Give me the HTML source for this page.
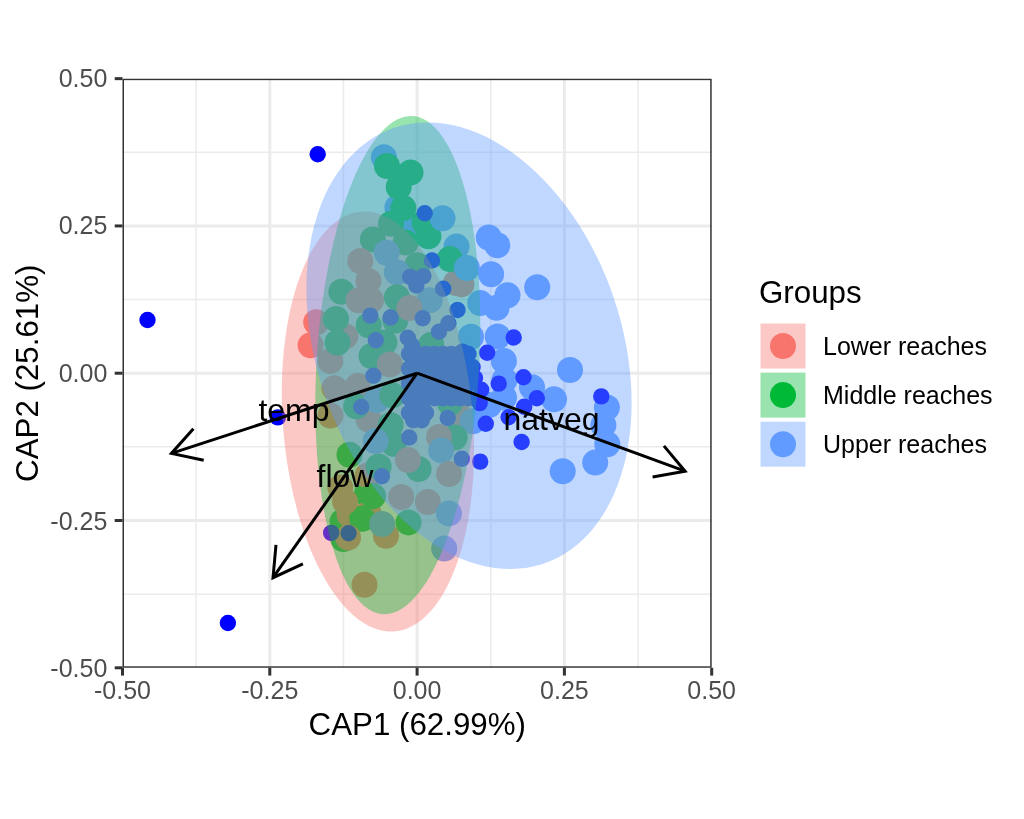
<!DOCTYPE html>
<html lang="en"><head><meta charset="utf-8"><title>CAP ordination</title>
<style>
html,body{margin:0;padding:0;background:#fff;}
body{width:1024px;height:819px;overflow:hidden;}
svg{display:block;}
text{font-family:"Liberation Sans",sans-serif;}
.tick{font-size:25px;fill:#4d4d4d;}
.axt{font-size:31.3px;fill:#000;}
.lab{font-size:32px;fill:#000;}
.lt{font-size:31.3px;fill:#000;}
.ll{font-size:25px;fill:#000;}
</style></head><body>
<svg width="1024" height="819" viewBox="0 0 1024 819">
<rect x="0" y="0" width="1024" height="819" fill="#ffffff"/>
<g stroke="#ebebeb" fill="none">
<line x1="196.15" y1="78.65" x2="196.15" y2="667.8" stroke-width="1.5"/>
<line x1="122.5" y1="594.16" x2="711.7" y2="594.16" stroke-width="1.5"/>
<line x1="343.45" y1="78.65" x2="343.45" y2="667.8" stroke-width="1.5"/>
<line x1="122.5" y1="446.87" x2="711.7" y2="446.87" stroke-width="1.5"/>
<line x1="490.75" y1="78.65" x2="490.75" y2="667.8" stroke-width="1.5"/>
<line x1="122.5" y1="299.58" x2="711.7" y2="299.58" stroke-width="1.5"/>
<line x1="638.05" y1="78.65" x2="638.05" y2="667.8" stroke-width="1.5"/>
<line x1="122.5" y1="152.29" x2="711.7" y2="152.29" stroke-width="1.5"/>
<line x1="269.80" y1="78.65" x2="269.80" y2="667.8" stroke-width="3"/>
<line x1="122.5" y1="520.51" x2="711.7" y2="520.51" stroke-width="3"/>
<line x1="417.10" y1="78.65" x2="417.10" y2="667.8" stroke-width="3"/>
<line x1="122.5" y1="373.22" x2="711.7" y2="373.22" stroke-width="3"/>
<line x1="564.40" y1="78.65" x2="564.40" y2="667.8" stroke-width="3"/>
<line x1="122.5" y1="225.94" x2="711.7" y2="225.94" stroke-width="3"/>
</g>
<defs><clipPath id="pc"><rect x="122.5" y="78.65" width="589.20" height="589.15"/></clipPath></defs>
<g clip-path="url(#pc)">
<g stroke="none">
<circle cx="366.9" cy="493.8" r="13.0" fill="#00BA38"/>
<circle cx="342.6" cy="521.5" r="13.0" fill="#00BA38"/>
<circle cx="383.9" cy="157.3" r="13.0" fill="#619CFF"/>
<circle cx="397.4" cy="207.5" r="13.0" fill="#619CFF"/>
<circle cx="408.0" cy="224.5" r="13.0" fill="#619CFF"/>
<circle cx="456.5" cy="246.6" r="13.0" fill="#619CFF"/>
<circle cx="417.2" cy="265.2" r="13.0" fill="#00BA38"/>
<circle cx="456.0" cy="283.0" r="13.0" fill="#F8766D"/>
<circle cx="316.2" cy="322.3" r="13.0" fill="#F8766D"/>
<circle cx="310.6" cy="345.2" r="13.0" fill="#F8766D"/>
<circle cx="345.3" cy="336.2" r="13.0" fill="#F8766D"/>
<circle cx="458.0" cy="415.0" r="13.0" fill="#F8766D"/>
<circle cx="349.5" cy="514.5" r="13.0" fill="#F8766D"/>
<circle cx="488.7" cy="237.5" r="13.0" fill="#619CFF"/>
<circle cx="497.3" cy="245.3" r="13.0" fill="#619CFF"/>
<circle cx="429.7" cy="300.3" r="13.0" fill="#619CFF"/>
<circle cx="461.4" cy="284.4" r="13.0" fill="#F8766D"/>
<circle cx="491.1" cy="274.2" r="13.0" fill="#619CFF"/>
<circle cx="537.2" cy="287.2" r="13.0" fill="#619CFF"/>
<circle cx="507.5" cy="295.3" r="13.0" fill="#619CFF"/>
<circle cx="480.2" cy="303.1" r="13.0" fill="#619CFF"/>
<circle cx="496.6" cy="307.8" r="13.0" fill="#619CFF"/>
<circle cx="497.7" cy="336.5" r="13.0" fill="#619CFF"/>
<circle cx="503.9" cy="361.0" r="13.0" fill="#619CFF"/>
<circle cx="504.5" cy="380.0" r="13.0" fill="#619CFF"/>
<circle cx="504.0" cy="397.5" r="13.0" fill="#619CFF"/>
<circle cx="532.0" cy="387.2" r="13.0" fill="#619CFF"/>
<circle cx="554.0" cy="399.2" r="13.0" fill="#619CFF"/>
<circle cx="570.0" cy="370.0" r="13.0" fill="#619CFF"/>
<circle cx="471.0" cy="336.7" r="13.0" fill="#619CFF"/>
<circle cx="606.9" cy="407.5" r="13.0" fill="#619CFF"/>
<circle cx="603.4" cy="425.1" r="13.0" fill="#619CFF"/>
<circle cx="607.3" cy="444.2" r="13.0" fill="#619CFF"/>
<circle cx="595.2" cy="462.6" r="13.0" fill="#619CFF"/>
<circle cx="562.7" cy="471.2" r="13.0" fill="#619CFF"/>
<circle cx="472.8" cy="421.2" r="13.0" fill="#619CFF"/>
<circle cx="489.0" cy="405.0" r="13.0" fill="#619CFF"/>
<circle cx="334.4" cy="388.3" r="13.0" fill="#F8766D"/>
<circle cx="330.5" cy="415.6" r="13.0" fill="#F8766D"/>
<circle cx="357.8" cy="386.0" r="13.0" fill="#F8766D"/>
<circle cx="368.6" cy="419.5" r="13.0" fill="#F8766D"/>
<circle cx="454.7" cy="437.5" r="13.0" fill="#00BA38"/>
<circle cx="450.0" cy="403.0" r="13.0" fill="#00BA38"/>
<circle cx="367.6" cy="475.4" r="13.0" fill="#F8766D"/>
<circle cx="444.2" cy="548.6" r="13.0" fill="#619CFF"/>
<circle cx="386.0" cy="535.7" r="13.0" fill="#F8766D"/>
<circle cx="343.4" cy="539.0" r="13.0" fill="#00BA38"/>
<circle cx="368.5" cy="513.5" r="13.0" fill="#F8766D"/>
<circle cx="364.5" cy="584.8" r="13.0" fill="#F8766D"/>
<circle cx="387.0" cy="166.0" r="13.0" fill="#00BA38"/>
<circle cx="410.5" cy="172.5" r="13.0" fill="#00BA38"/>
<circle cx="398.7" cy="187.0" r="13.0" fill="#00BA38"/>
<circle cx="403.4" cy="208.1" r="13.0" fill="#00BA38"/>
<circle cx="391.0" cy="223.7" r="13.0" fill="#00BA38"/>
<circle cx="424.6" cy="222.6" r="13.0" fill="#00BA38"/>
<circle cx="428.4" cy="236.2" r="13.0" fill="#00BA38"/>
<circle cx="372.8" cy="239.4" r="13.0" fill="#00BA38"/>
<circle cx="405.6" cy="242.5" r="13.0" fill="#00BA38"/>
<circle cx="449.8" cy="259.0" r="13.0" fill="#00BA38"/>
<circle cx="341.4" cy="291.7" r="13.0" fill="#00BA38"/>
<circle cx="368.7" cy="325.3" r="13.0" fill="#00BA38"/>
<circle cx="395.3" cy="320.6" r="13.0" fill="#00BA38"/>
<circle cx="384.4" cy="342.5" r="13.0" fill="#00BA38"/>
<circle cx="371.5" cy="356.0" r="13.0" fill="#00BA38"/>
<circle cx="431.2" cy="344.8" r="13.0" fill="#00BA38"/>
<circle cx="356.2" cy="406.2" r="13.0" fill="#00BA38"/>
<circle cx="376.5" cy="400.0" r="13.0" fill="#619CFF"/>
<circle cx="392.2" cy="395.3" r="13.0" fill="#00BA38"/>
<circle cx="390.6" cy="425.0" r="13.0" fill="#00BA38"/>
<circle cx="393.7" cy="443.7" r="13.0" fill="#00BA38"/>
<circle cx="349.5" cy="454.7" r="13.0" fill="#00BA38"/>
<circle cx="378.7" cy="466.5" r="13.0" fill="#00BA38"/>
<circle cx="418.6" cy="469.0" r="13.0" fill="#00BA38"/>
<circle cx="439.0" cy="437.0" r="13.0" fill="#F8766D"/>
<circle cx="362.2" cy="518.8" r="13.0" fill="#00BA38"/>
<circle cx="408.5" cy="522.4" r="13.0" fill="#00BA38"/>
<circle cx="348.1" cy="537.6" r="13.0" fill="#F8766D"/>
<circle cx="373.0" cy="496.0" r="13.0" fill="#00BA38"/>
<circle cx="442.5" cy="218.3" r="13.0" fill="#619CFF"/>
<circle cx="386.7" cy="252.7" r="13.0" fill="#619CFF"/>
<circle cx="360.3" cy="261.0" r="13.0" fill="#F8766D"/>
<circle cx="396.9" cy="272.2" r="13.0" fill="#619CFF"/>
<circle cx="368.4" cy="281.0" r="13.0" fill="#F8766D"/>
<circle cx="358.6" cy="300.3" r="13.0" fill="#F8766D"/>
<circle cx="371.0" cy="300.3" r="13.0" fill="#F8766D"/>
<circle cx="330.3" cy="361.0" r="13.0" fill="#F8766D"/>
<circle cx="389.8" cy="364.5" r="13.0" fill="#F8766D"/>
<circle cx="375.6" cy="441.0" r="13.0" fill="#619CFF"/>
<circle cx="441.2" cy="450.4" r="13.0" fill="#619CFF"/>
<circle cx="449.0" cy="474.0" r="13.0" fill="#F8766D"/>
<circle cx="340.3" cy="487.6" r="13.0" fill="#F8766D"/>
<circle cx="345.0" cy="501.6" r="13.0" fill="#F8766D"/>
<circle cx="401.2" cy="497.0" r="13.0" fill="#F8766D"/>
<circle cx="427.8" cy="502.0" r="13.0" fill="#F8766D"/>
<circle cx="396.9" cy="297.2" r="13.0" fill="#00BA38"/>
<circle cx="336.0" cy="319.0" r="13.0" fill="#00BA38"/>
<circle cx="337.5" cy="342.5" r="13.0" fill="#00BA38"/>
<circle cx="466.9" cy="268.0" r="13.0" fill="#619CFF"/>
<circle cx="408.0" cy="460.0" r="13.0" fill="#F8766D"/>
<circle cx="448.9" cy="513.4" r="13.0" fill="#619CFF"/>
<circle cx="382.1" cy="524.0" r="13.0" fill="#619CFF"/>
<circle cx="409.4" cy="308.1" r="13.0" fill="#F8766D"/>
</g>
<g stroke="none" fill="#0000ff">
<circle cx="317.7" cy="154.3" r="8.2"/>
<circle cx="147.5" cy="320.0" r="8.2"/>
<circle cx="227.9" cy="623.0" r="8.2"/>
<circle cx="277.8" cy="417.4" r="8.2"/>
<circle cx="424.7" cy="213.2" r="8.2"/>
<circle cx="432.0" cy="260.5" r="8.2"/>
<circle cx="443.2" cy="288.7" r="8.2"/>
<circle cx="457.5" cy="310.0" r="8.2"/>
<circle cx="370.3" cy="315.6" r="8.2"/>
<circle cx="390.6" cy="317.5" r="8.2"/>
<circle cx="422.7" cy="318.3" r="8.2"/>
<circle cx="375.8" cy="340.2" r="8.2"/>
<circle cx="410.2" cy="276.9" r="8.2"/>
<circle cx="423.4" cy="276.1" r="8.2"/>
<circle cx="416.4" cy="285.5" r="8.2"/>
<circle cx="448.4" cy="323.2" r="8.2"/>
<circle cx="439.0" cy="331.8" r="8.2"/>
<circle cx="407.8" cy="337.8" r="8.2"/>
<circle cx="412.0" cy="345.5" r="8.2"/>
<circle cx="513.7" cy="337.5" r="8.2"/>
<circle cx="487.2" cy="352.8" r="8.2"/>
<circle cx="498.7" cy="383.6" r="8.2"/>
<circle cx="523.5" cy="377.2" r="8.2"/>
<circle cx="536.8" cy="398.3" r="8.2"/>
<circle cx="524.2" cy="406.8" r="8.2"/>
<circle cx="508.6" cy="417.2" r="8.2"/>
<circle cx="485.8" cy="423.7" r="8.2"/>
<circle cx="481.2" cy="389.8" r="8.2"/>
<circle cx="479.7" cy="403.1" r="8.2"/>
<circle cx="475.0" cy="378.0" r="8.2"/>
<circle cx="472.6" cy="367.0" r="8.2"/>
<circle cx="462.5" cy="351.6" r="8.2"/>
<circle cx="447.7" cy="418.0" r="8.2"/>
<circle cx="601.3" cy="396.4" r="8.2"/>
<circle cx="521.6" cy="442.0" r="8.2"/>
<circle cx="480.2" cy="461.6" r="8.2"/>
<circle cx="461.8" cy="458.7" r="8.2"/>
<circle cx="373.4" cy="375.8" r="8.2"/>
<circle cx="361.2" cy="407.0" r="8.2"/>
<circle cx="409.2" cy="437.5" r="8.2"/>
<circle cx="381.9" cy="476.3" r="8.2"/>
<circle cx="331.2" cy="532.9" r="8.2"/>
<circle cx="348.6" cy="533.2" r="8.2"/>
<circle cx="409.0" cy="354.0" r="8.2"/>
<circle cx="417.5" cy="354.0" r="8.2"/>
<circle cx="426.0" cy="354.0" r="8.2"/>
<circle cx="434.5" cy="354.0" r="8.2"/>
<circle cx="443.0" cy="354.0" r="8.2"/>
<circle cx="451.5" cy="354.0" r="8.2"/>
<circle cx="460.0" cy="354.0" r="8.2"/>
<circle cx="468.5" cy="354.0" r="8.2"/>
<circle cx="413.2" cy="361.4" r="8.2"/>
<circle cx="421.8" cy="361.4" r="8.2"/>
<circle cx="430.2" cy="361.4" r="8.2"/>
<circle cx="438.8" cy="361.4" r="8.2"/>
<circle cx="447.2" cy="361.4" r="8.2"/>
<circle cx="455.8" cy="361.4" r="8.2"/>
<circle cx="464.2" cy="361.4" r="8.2"/>
<circle cx="409.0" cy="368.7" r="8.2"/>
<circle cx="417.5" cy="368.7" r="8.2"/>
<circle cx="426.0" cy="368.7" r="8.2"/>
<circle cx="434.5" cy="368.7" r="8.2"/>
<circle cx="443.0" cy="368.7" r="8.2"/>
<circle cx="451.5" cy="368.7" r="8.2"/>
<circle cx="460.0" cy="368.7" r="8.2"/>
<circle cx="468.5" cy="368.7" r="8.2"/>
<circle cx="413.2" cy="376.1" r="8.2"/>
<circle cx="421.8" cy="376.1" r="8.2"/>
<circle cx="430.2" cy="376.1" r="8.2"/>
<circle cx="438.8" cy="376.1" r="8.2"/>
<circle cx="447.2" cy="376.1" r="8.2"/>
<circle cx="455.8" cy="376.1" r="8.2"/>
<circle cx="464.2" cy="376.1" r="8.2"/>
<circle cx="409.0" cy="383.4" r="8.2"/>
<circle cx="417.5" cy="383.4" r="8.2"/>
<circle cx="426.0" cy="383.4" r="8.2"/>
<circle cx="434.5" cy="383.4" r="8.2"/>
<circle cx="443.0" cy="383.4" r="8.2"/>
<circle cx="451.5" cy="383.4" r="8.2"/>
<circle cx="460.0" cy="383.4" r="8.2"/>
<circle cx="468.5" cy="383.4" r="8.2"/>
<circle cx="413.2" cy="390.8" r="8.2"/>
<circle cx="421.8" cy="390.8" r="8.2"/>
<circle cx="430.2" cy="390.8" r="8.2"/>
<circle cx="438.8" cy="390.8" r="8.2"/>
<circle cx="447.2" cy="390.8" r="8.2"/>
<circle cx="455.8" cy="390.8" r="8.2"/>
<circle cx="464.2" cy="390.8" r="8.2"/>
<circle cx="409.0" cy="398.2" r="8.2"/>
<circle cx="417.5" cy="398.2" r="8.2"/>
<circle cx="426.0" cy="398.2" r="8.2"/>
<circle cx="434.5" cy="398.2" r="8.2"/>
<circle cx="443.0" cy="398.2" r="8.2"/>
<circle cx="451.5" cy="398.2" r="8.2"/>
<circle cx="460.0" cy="398.2" r="8.2"/>
<circle cx="468.5" cy="398.2" r="8.2"/>
<circle cx="413.2" cy="405.5" r="8.2"/>
<circle cx="421.8" cy="405.5" r="8.2"/>
<circle cx="409.0" cy="412.9" r="8.2"/>
<circle cx="417.5" cy="412.9" r="8.2"/>
<circle cx="426.0" cy="412.9" r="8.2"/>
<circle cx="413.2" cy="420.2" r="8.2"/>
<circle cx="421.8" cy="420.2" r="8.2"/>
</g>
<g stroke="none" fill-opacity="0.4">
<path d="M474.0 450.3L473.9 461.2L473.5 471.9L472.8 482.5L471.9 493.0L470.7 503.2L469.3 513.2L467.6 523.0L465.7 532.5L463.5 541.6L461.1 550.5L458.5 559.0L455.6 567.1L452.6 574.8L449.3 582.1L445.9 589.0L442.2 595.4L438.4 601.3L434.4 606.7L430.2 611.7L425.9 616.1L421.5 619.9L417.0 623.3L412.3 626.0L407.6 628.2L402.8 629.9L397.9 631.0L392.9 631.5L387.9 631.4L382.9 630.7L377.9 629.5L372.9 627.7L367.9 625.4L362.9 622.4L357.9 619.0L353.0 615.0L348.2 610.4L343.5 605.4L338.8 599.8L334.3 593.7L329.9 587.2L325.6 580.2L321.4 572.8L317.4 565.0L313.6 556.8L309.9 548.2L306.5 539.2L303.2 530.0L300.2 520.4L297.3 510.6L294.7 500.5L292.3 490.2L290.1 479.8L288.2 469.1L286.5 458.3L285.1 447.5L283.9 436.5L283.0 425.6L282.3 414.6L281.9 403.6L281.8 392.7L281.9 381.8L282.3 371.1L283.0 360.5L283.9 350.0L285.1 339.8L286.5 329.8L288.2 320.0L290.1 310.5L292.3 301.4L294.7 292.5L297.3 284.0L300.2 275.9L303.2 268.2L306.5 260.9L309.9 254.0L313.6 247.6L317.4 241.7L321.4 236.3L325.6 231.3L329.8 226.9L334.3 223.1L338.8 219.7L343.5 217.0L348.2 214.8L353.0 213.1L357.9 212.0L362.9 211.5L367.9 211.6L372.9 212.3L377.9 213.5L382.9 215.3L387.9 217.6L392.9 220.6L397.9 224.0L402.8 228.0L407.6 232.6L412.3 237.6L417.0 243.2L421.5 249.3L425.9 255.8L430.2 262.8L434.4 270.2L438.4 278.0L442.2 286.2L445.9 294.8L449.3 303.8L452.6 313.0L455.6 322.6L458.5 332.4L461.1 342.5L463.5 352.8L465.7 363.2L467.6 373.9L469.3 384.7L470.7 395.5L471.9 406.5L472.8 417.4L473.5 428.4L473.9 439.4Z" fill="#F8766D"/>
<path d="M480.3 325.2L480.2 338.2L479.8 351.2L479.3 364.2L478.5 377.2L477.5 390.2L476.3 403.2L474.8 416.0L473.2 428.7L471.3 441.2L469.2 453.5L467.0 465.6L464.5 477.4L461.9 488.9L459.1 500.0L456.1 510.8L453.0 521.2L449.7 531.1L446.3 540.6L442.7 549.6L439.1 558.1L435.3 566.1L431.4 573.5L427.4 580.4L423.3 586.6L419.2 592.3L415.0 597.3L410.7 601.7L406.4 605.5L402.1 608.6L397.8 611.0L393.5 612.7L389.2 613.8L384.9 614.2L380.6 613.9L376.4 612.9L372.3 611.3L368.2 608.9L364.2 605.9L360.3 602.3L356.6 598.0L352.9 593.0L349.3 587.5L345.9 581.3L342.6 574.5L339.5 567.2L336.5 559.3L333.7 550.8L331.1 541.9L328.6 532.4L326.4 522.6L324.3 512.2L322.4 501.5L320.8 490.4L319.3 479.0L318.1 467.2L317.1 455.2L316.3 442.9L315.8 430.4L315.4 417.8L315.3 405.0L315.4 392.0L315.8 379.0L316.3 366.0L317.1 353.0L318.1 340.0L319.3 327.0L320.8 314.2L322.4 301.5L324.3 289.0L326.4 276.7L328.6 264.6L331.1 252.8L333.7 241.3L336.5 230.2L339.5 219.4L342.6 209.0L345.9 199.1L349.3 189.6L352.9 180.6L356.5 172.1L360.3 164.1L364.2 156.7L368.2 149.8L372.3 143.6L376.4 137.9L380.6 132.9L384.9 128.5L389.2 124.7L393.5 121.6L397.8 119.2L402.1 117.5L406.4 116.4L410.7 116.0L415.0 116.3L419.2 117.3L423.3 118.9L427.4 121.3L431.4 124.3L435.3 127.9L439.1 132.2L442.7 137.2L446.3 142.7L449.7 148.9L453.0 155.7L456.1 163.0L459.1 170.9L461.9 179.4L464.5 188.3L467.0 197.8L469.2 207.6L471.3 218.0L473.2 228.7L474.8 239.8L476.3 251.2L477.5 263.0L478.5 275.0L479.3 287.3L479.8 299.8L480.2 312.4Z" fill="#00BA38"/>
<path d="M631.6 402.4L631.4 413.6L630.7 424.7L629.6 435.5L628.0 446.1L626.1 456.4L623.6 466.4L620.8 476.0L617.5 485.4L613.9 494.3L609.8 502.8L605.4 510.9L600.5 518.5L595.4 525.7L589.8 532.4L584.0 538.5L577.8 544.2L571.3 549.2L564.6 553.8L557.6 557.7L550.3 561.1L542.8 563.9L535.1 566.1L527.3 567.7L519.2 568.6L511.1 569.0L502.8 568.7L494.4 567.9L486.0 566.4L477.5 564.3L469.0 561.7L460.5 558.4L452.0 554.6L443.6 550.1L435.2 545.2L426.9 539.6L418.8 533.6L410.7 527.0L402.9 519.9L395.2 512.4L387.7 504.4L380.4 495.9L373.4 487.1L366.7 477.9L360.2 468.3L354.0 458.3L348.2 448.1L342.6 437.5L337.5 426.8L332.6 415.8L328.2 404.6L324.1 393.2L320.5 381.7L317.2 370.1L314.4 358.5L311.9 346.8L310.0 335.1L308.4 323.5L307.3 311.9L306.6 300.4L306.4 289.0L306.6 277.8L307.3 266.7L308.4 255.9L310.0 245.3L311.9 235.0L314.4 225.0L317.2 215.4L320.5 206.0L324.1 197.1L328.2 188.6L332.6 180.5L337.5 172.9L342.6 165.7L348.2 159.0L354.0 152.9L360.2 147.2L366.7 142.2L373.4 137.6L380.4 133.7L387.7 130.3L395.2 127.5L402.9 125.3L410.7 123.7L418.8 122.8L426.9 122.4L435.2 122.7L443.6 123.5L452.0 125.0L460.5 127.1L469.0 129.7L477.5 133.0L486.0 136.8L494.4 141.3L502.8 146.2L511.1 151.8L519.2 157.8L527.3 164.4L535.1 171.5L542.8 179.0L550.3 187.0L557.6 195.5L564.6 204.3L571.3 213.5L577.8 223.1L584.0 233.1L589.8 243.3L595.4 253.9L600.5 264.6L605.4 275.6L609.8 286.8L613.9 298.2L617.5 309.7L620.8 321.3L623.6 332.9L626.1 344.6L628.0 356.3L629.6 367.9L630.7 379.5L631.4 391.0Z" fill="#619CFF"/>
</g>
<g stroke="#000" stroke-width="3" fill="none" stroke-linecap="butt" stroke-linejoin="miter">
<path d="M417.1 373.2L171.4 453.4"/>
<path d="M193.4 428.8L171.4 453.4L203.7 460.2"/>
<path d="M417.1 373.2L273.0 577.7"/>
<path d="M276.0 544.8L273.0 577.7L302.9 563.8"/>
<path d="M417.1 373.2L685.1 471.2"/>
<path d="M652.6 476.9L685.1 471.2L663.9 445.9"/>
</g>
<text class="lab" x="294" y="421" text-anchor="middle">temp</text>
<text class="lab" x="345" y="487.3" text-anchor="middle">flow</text>
<text class="lab" x="551.5" y="430.3" text-anchor="middle">natveg</text>
</g>
<rect x="122.5" y="78.65" width="589.20" height="589.15" fill="none" stroke="#333333" stroke-width="3" clip-path="url(#pc)"/>
<g stroke="#333333" stroke-width="3">
<line x1="122.50" y1="667.8" x2="122.50" y2="675.60"/>
<line x1="114.70" y1="667.80" x2="122.5" y2="667.80"/>
<line x1="269.80" y1="667.8" x2="269.80" y2="675.60"/>
<line x1="114.70" y1="520.51" x2="122.5" y2="520.51"/>
<line x1="417.10" y1="667.8" x2="417.10" y2="675.60"/>
<line x1="114.70" y1="373.22" x2="122.5" y2="373.22"/>
<line x1="564.40" y1="667.8" x2="564.40" y2="675.60"/>
<line x1="114.70" y1="225.94" x2="122.5" y2="225.94"/>
<line x1="711.70" y1="667.8" x2="711.70" y2="675.60"/>
<line x1="114.70" y1="78.65" x2="122.5" y2="78.65"/>
</g>
<text class="tick" x="122.50" y="699.2" text-anchor="middle">-0.50</text>
<text class="tick" x="107.3" y="677.10" text-anchor="end">-0.50</text>
<text class="tick" x="269.80" y="699.2" text-anchor="middle">-0.25</text>
<text class="tick" x="107.3" y="529.54" text-anchor="end">-0.25</text>
<text class="tick" x="417.10" y="699.2" text-anchor="middle">0.00</text>
<text class="tick" x="107.3" y="381.97" text-anchor="end">0.00</text>
<text class="tick" x="564.40" y="699.2" text-anchor="middle">0.25</text>
<text class="tick" x="107.3" y="234.41" text-anchor="end">0.25</text>
<text class="tick" x="711.70" y="699.2" text-anchor="middle">0.50</text>
<text class="tick" x="107.3" y="86.85" text-anchor="end">0.50</text>
<text class="axt" x="417.3" y="734.5" text-anchor="middle">CAP1 (62.99%)</text>
<text class="axt" transform="translate(37.9,373.2) rotate(-90)" text-anchor="middle">CAP2 (25.61%)</text>
<text class="lt" x="759" y="303">Groups</text>
<rect x="760.5" y="323.5" width="45" height="45" fill="#ffffff"/>
<circle cx="783" cy="346.0" r="13.0" fill="#F8766D"/>
<rect x="760.5" y="323.5" width="45" height="45" fill="#F8766D" fill-opacity="0.4"/>
<text class="ll" x="823" y="355.0">Lower reaches</text>
<rect x="760.5" y="372.6" width="45" height="45" fill="#ffffff"/>
<circle cx="783" cy="395.1" r="13.0" fill="#00BA38"/>
<rect x="760.5" y="372.6" width="45" height="45" fill="#00BA38" fill-opacity="0.4"/>
<text class="ll" x="823" y="404.1">Middle reaches</text>
<rect x="760.5" y="421.7" width="45" height="45" fill="#ffffff"/>
<circle cx="783" cy="444.2" r="13.0" fill="#619CFF"/>
<rect x="760.5" y="421.7" width="45" height="45" fill="#619CFF" fill-opacity="0.4"/>
<text class="ll" x="823" y="453.2">Upper reaches</text>
</svg>
</body></html>
